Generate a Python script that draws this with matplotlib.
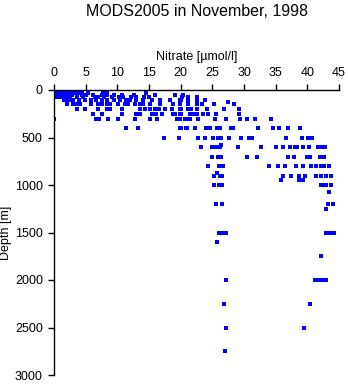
import matplotlib
matplotlib.use("Agg")
import matplotlib.pyplot as plt

plt.rcParams['font.family'] = ['Liberation Sans', 'DejaVu Sans']

# nitrate readings [umol/l] at each sampled depth [m]
n_0 = [0.1, 0.4, 0.7, 1.0, 1.3, 1.6, 1.9, 2.2, 2.5, 2.8, 3.2, 3.6, 4.0, 7.9, 8.3]
n_10 = [0.1, 0.4, 0.7, 1.0, 1.3, 1.6, 1.9, 2.2, 2.5, 2.8, 3.3, 3.7, 4.3, 8.0]
n_20 = [0.1, 0.4, 0.7, 1.0, 1.3, 1.6, 1.9, 2.2, 2.5, 2.8, 3.0, 3.5, 4.4, 7.8, 8.2]
n_30 = [0.1, 0.4, 0.7, 1.0, 1.3, 1.6, 1.9, 2.2, 2.6, 3.4, 4.0, 5.4, 8.0, 8.4, 14.6]
n_50 = [0.1, 0.4, 0.7, 1.0, 1.3, 1.6, 1.9, 2.2, 2.5, 2.8, 4.4, 4.9, 5.1, 6.2, 7.5,
        8.3, 9.4, 10.7, 12.7, 15.9, 19.1, 20.3]
n_75 = [0.1, 0.4, 0.7, 1.0, 1.3, 1.6, 1.9, 2.2, 2.6, 3.6, 4.6, 6.5, 7.0, 7.9, 9.1,
        10.2, 10.9, 12.2, 13.0, 14.2, 15.0, 20.2, 21.2, 22.6]
n_100 = [1.6, 2.0, 2.3, 3.05, 4.0, 4.9, 5.9, 6.7, 7.5, 8.3, 9.4, 10.4, 11.4, 12.0,
         13.0, 14.1, 15.4, 16.7, 18.3, 19.9, 20.0, 21.1, 22.6, 23.9]
n_125 = [27.5]
n_150 = [2.0, 3.05, 3.6, 4.1, 5.9, 7.0, 7.5, 8.3, 8.8, 10.15, 11.2, 11.7, 12.8,
         13.6, 14.1, 15.1, 16.7, 18.8, 19.9, 21.1, 22.5, 23.3, 25.3, 28.4]
n_200 = [3.6, 4.9, 7.0, 8.3, 8.8, 10.7, 13.6, 14.35, 15.1, 15.9, 16.5, 17.5, 18.6,
         19.9, 20.1, 21.2, 21.7, 22.5, 24.1, 26.9, 29.2]
n_250 = [6.2, 7.5, 10.8, 13.0, 13.6, 15.4, 16.1, 17.0, 18.8, 19.1, 19.9, 20.0, 21.45,
         21.8, 22.2, 22.5, 23.5, 24.3, 25.5, 29.2]
n_300 = [0.05, 6.7, 7.15, 8.46, 10.15, 12.8, 15.1, 16.2, 19.35, 19.9, 20.7, 20.8,
         21.45, 22.8, 25.4, 27.2, 29.3, 30.4, 31.7, 34.3]
n_400 = [11.4, 13.2, 19.9, 20.9, 22.2, 20.0, 21.0, 24.0, 24.6, 25.7, 26.2, 28.0,
         28.3, 32.2, 34.5, 35.6, 37.0, 38.9]
n_500 = [17.3, 19.8, 22.8, 23.9, 25.1, 25.9, 26.3, 27.6, 29.5, 30.8, 31.2, 36.6,
         39.2, 40.1, 40.7]
n_575 = [26.3]
n_600 = [23.2, 24.9, 25.3, 25.8, 26.2, 29.1, 32.7, 35.1, 36.2, 37.2, 38.0, 38.4,
         39.3, 40.3, 41.7, 42.2, 42.8]
n_700 = [24.9, 25.9, 26.3, 30.4, 32.1, 37.0, 37.9, 39.9, 40.4, 42.0, 42.7]
n_800 = [24.3, 26.1, 26.7, 34.0, 35.3, 36.5, 38.2, 39.3, 40.6, 41.4, 42.2, 42.7, 43.4]
n_870 = [25.8]
n_900 = [25.2, 26.2, 26.6, 36.1, 37.4, 38.7, 39.6, 41.4, 42.2, 43.0, 43.8]
n_950 = [35.9, 38.7, 39.3]
n_1000 = [25.3, 26.1, 26.6, 42.1, 42.5, 43.0, 43.8]
n_1070 = [43.4]
n_1200 = [25.6, 26.6, 43.2, 44.1]
n_1250 = [42.9]
n_1500 = [26.1, 26.7, 27.2, 42.9, 43.5, 44.2]
n_1600 = [25.8]
n_1750 = [42.2]
n_2000 = [27.1, 41.2, 41.7, 42.3, 42.9]
n_2250 = [26.8, 40.4]
n_2500 = [27.2, 39.5]
n_2750 = [27.0]

profiles = {
    0: n_0, 10: n_10, 20: n_20, 30: n_30, 50: n_50, 75: n_75, 100: n_100,
    125: n_125, 150: n_150, 200: n_200, 250: n_250, 300: n_300, 400: n_400,
    500: n_500, 575: n_575, 600: n_600, 700: n_700, 800: n_800, 870: n_870,
    900: n_900, 950: n_950, 1000: n_1000, 1070: n_1070, 1200: n_1200,
    1250: n_1250, 1500: n_1500, 1600: n_1600, 1750: n_1750, 2000: n_2000,
    2250: n_2250, 2500: n_2500, 2750: n_2750,
}

nitrate = []
depth = []
for d, vals in profiles.items():
    nitrate += vals
    depth += [d] * len(vals)

fig = plt.figure(figsize=(3.48, 3.84), dpi=100)
ax = fig.add_axes([54 / 348, 9 / 384, 285 / 348, 285 / 384])

ax.plot(nitrate, depth, linestyle='none', marker='s', markersize=2.2,
        markeredgewidth=0, color='#0000ff')

ax.set_xlim(0, 45)
ax.set_ylim(3000, 0)
ax.set_xticks(range(0, 46, 5))
ax.set_yticks(range(0, 3001, 500))

ax.xaxis.set_ticks_position('top')
ax.xaxis.set_label_position('top')
ax.spines['right'].set_visible(False)
ax.spines['bottom'].set_visible(False)
for s in ('top', 'left'):
    ax.spines[s].set_linewidth(1.0)
ax.tick_params(direction='out', length=4, width=1.0, labelsize=9, pad=4)

ax.set_xlabel('Nitrate [\u00b5mol/l]', fontsize=9, labelpad=5)
ax.set_ylabel('Depth [m]', fontsize=9, labelpad=2)
fig.suptitle('MODS2005 in November, 1998', fontsize=11.5, x=196.5 / 348, y=0.99)

fig.savefig('out.png', dpi=100)
